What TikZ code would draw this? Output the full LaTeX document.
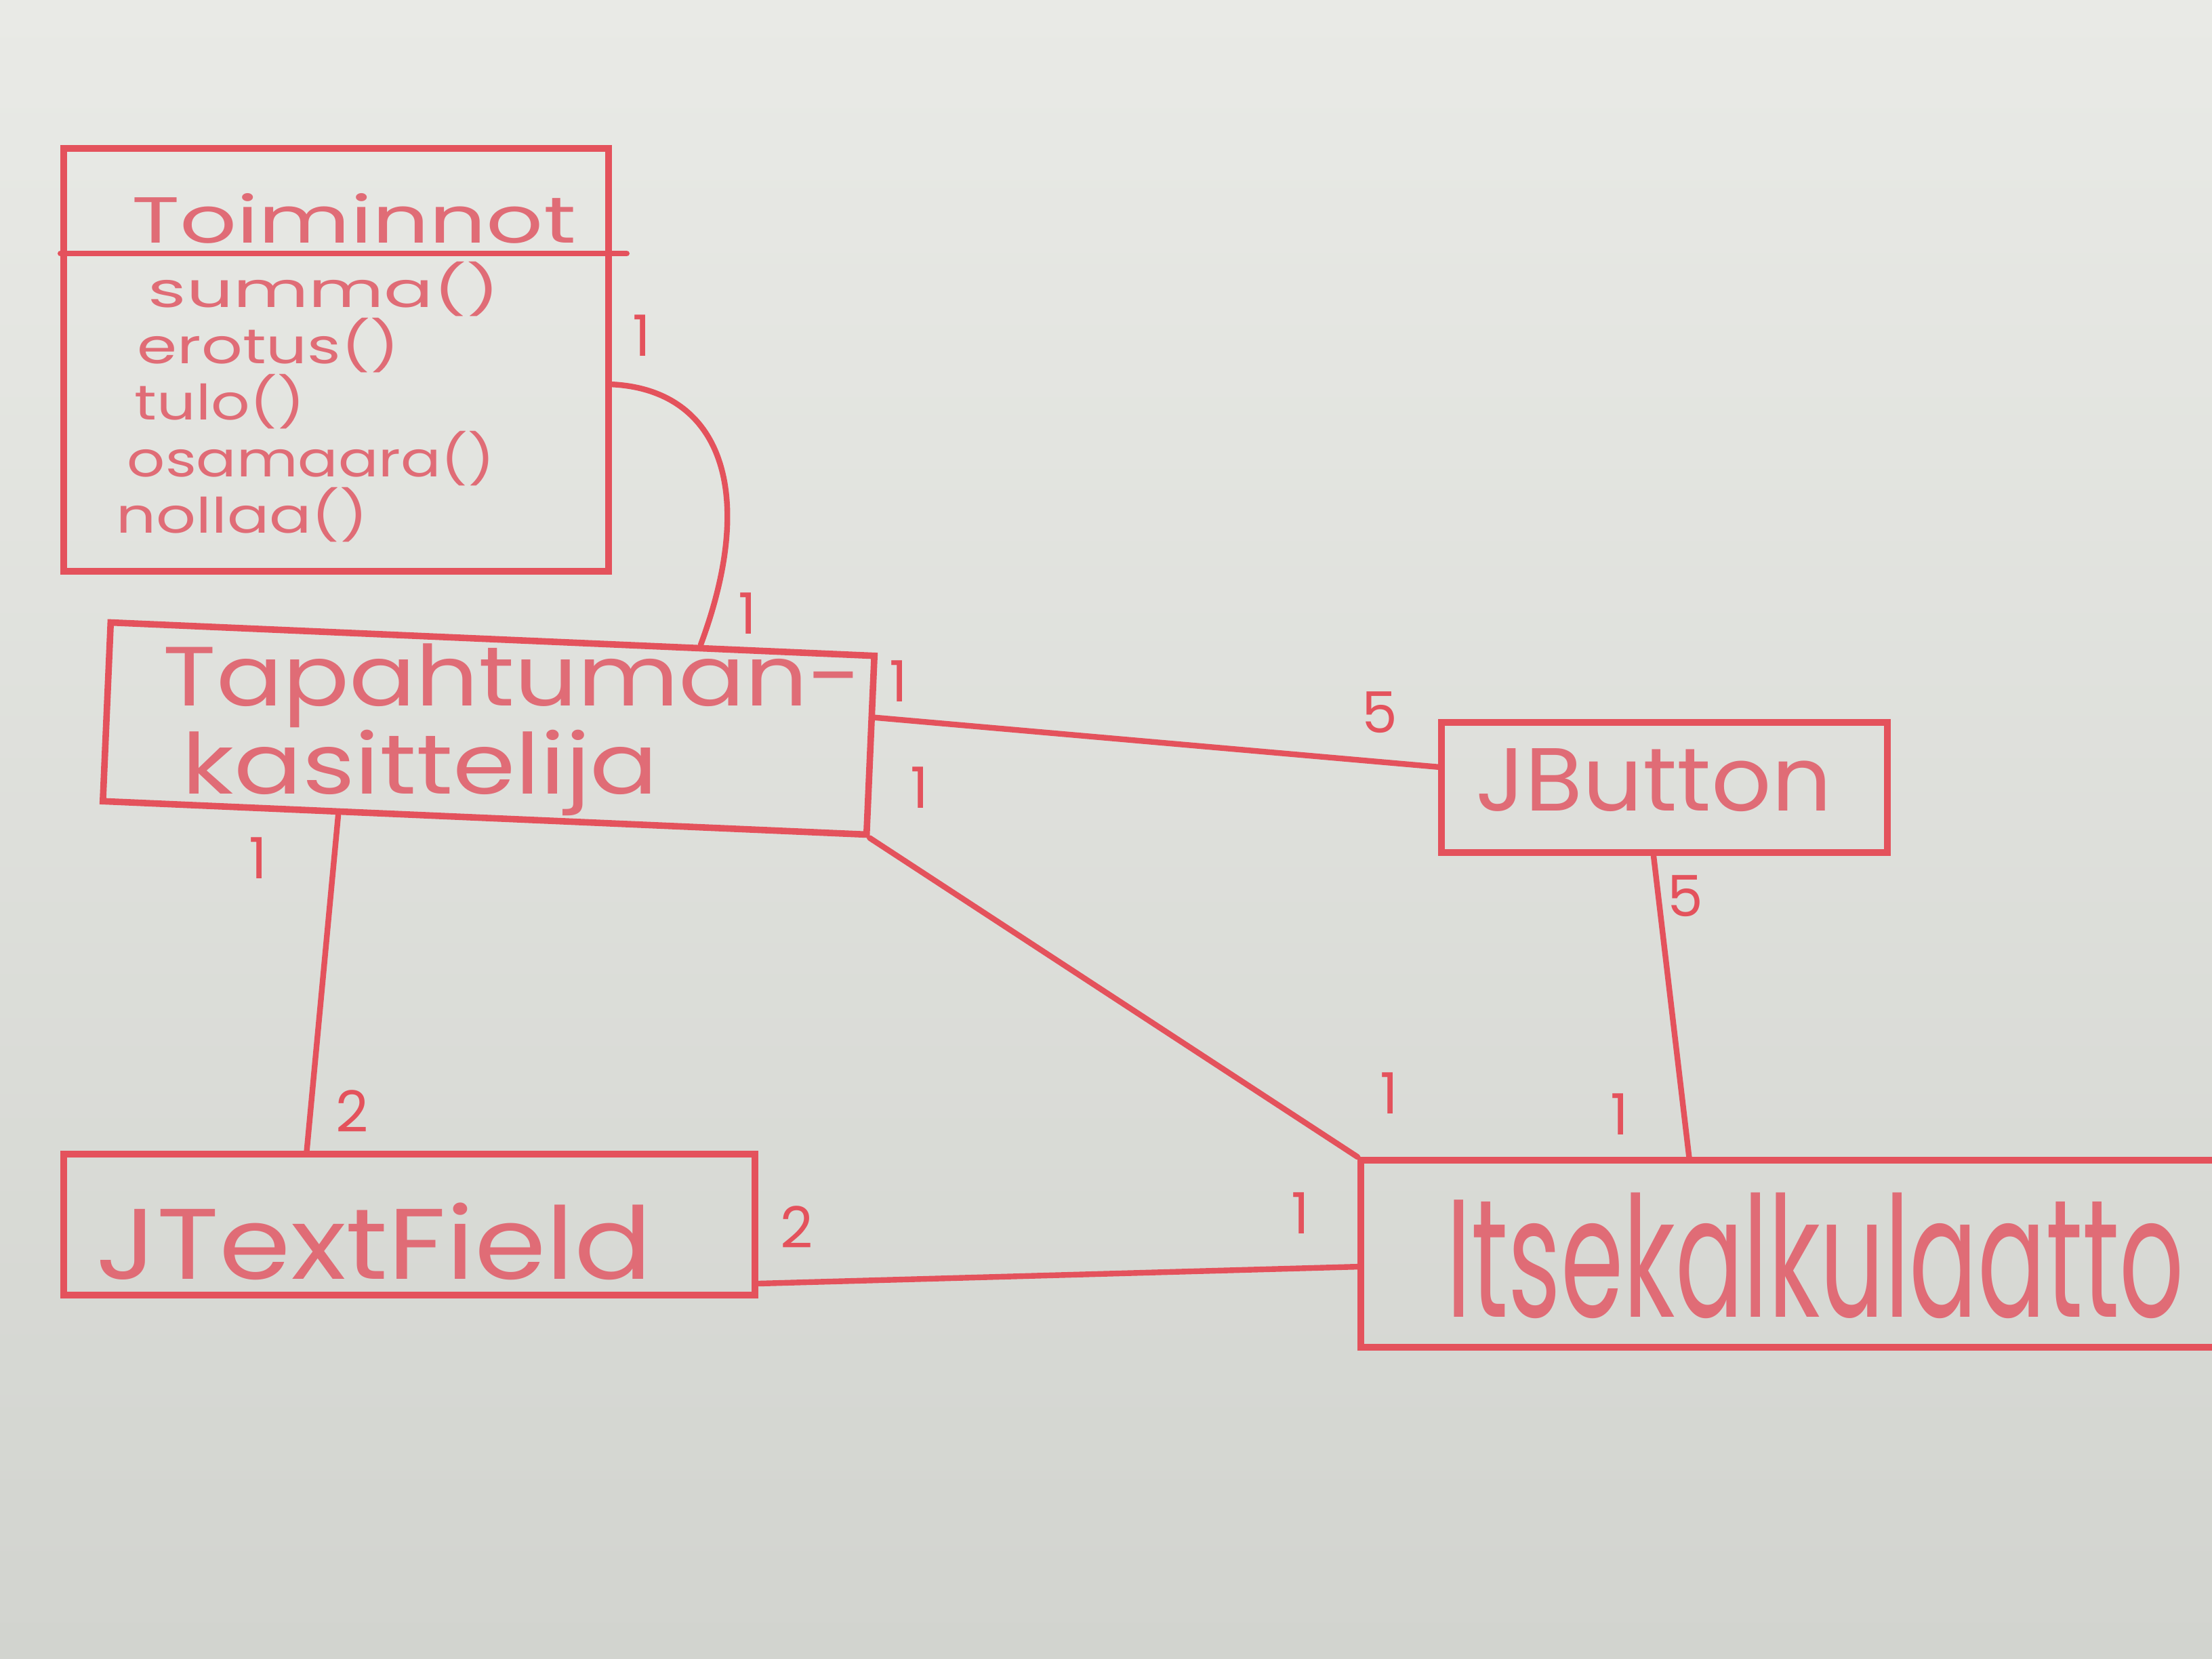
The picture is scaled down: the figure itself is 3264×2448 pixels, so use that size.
\documentclass[tikz,border=0pt]{standalone}
\usepackage{fontspec}
\setmainfont{Poppins}
\usetikzlibrary{calc}
\definecolor{papertop}{RGB}{233,234,230}
\definecolor{paperbot}{RGB}{210,212,207}
\definecolor{pen}{RGB}{228,82,92}
\definecolor{ink}{RGB}{224,108,118}
\begin{document}
\begin{tikzpicture}[x=0.25pt,y=-0.25pt,
  box/.style={draw=pen, line width=2.4pt, rectangle, inner sep=0pt},
  conn/.style={draw=pen, line width=2.1pt, line cap=round},
  hand/.style={text=ink, inner sep=0pt},
  mult/.style={text=pen, inner sep=0pt, font=\fontsize{21}{21}\selectfont}]
\useasboundingbox (0,0) rectangle (3264,2448);
\shade[top color=papertop, bottom color=paperbot] (0,0) rectangle (3264,2448);
\clip (0,0) rectangle (3264,2448);

% boxes
\node[box, minimum width=201pt, minimum height=156pt] (toi) at (496,531) {};
\node[box, minimum width=282pt, minimum height=66pt, rotate=-2.5] (tap) at (721,1075) {};
\node[box, minimum width=164.5pt, minimum height=48pt] (jb) at (2456,1162) {};
\node[box, minimum width=255pt, minimum height=52pt] (jtf) at (604,1807) {};
\node[box, minimum width=348pt, minimum height=69pt] (its) at (2704,1850) {};

% header divider of Toiminnot
\coordinate (hdl) at ($(toi.north west)+(0,160)$);
\coordinate (hdr) at ($(toi.north east)+(22,160)$);
\draw[conn] (hdl) -- (hdr);

% texts
\node[hand, font=\fontsize{24}{24}\selectfont] (ttl) at (522,322) {\scalebox{1.37}[1]{Toiminnot}};
\node[hand, anchor=west, font=\fontsize{18}{18}\selectfont] (m1) at (218,427) {\scalebox{1.5}[1]{summa()}};
\node[hand, anchor=west, font=\fontsize{18}{18}\selectfont] (m2) at (202,510) {\scalebox{1.32}[1]{erotus()}};
\node[hand, anchor=west, font=\fontsize{18}{18}\selectfont] (m3) at (198,593) {\scalebox{1.25}[1]{tulo()}};
\node[hand, anchor=west, font=\fontsize{18}{18}\selectfont] (m4) at (187,677) {\scalebox{1.22}[1]{osamaara()}};
\node[hand, anchor=west, font=\fontsize{18}{18}\selectfont] (m5) at (171,760) {\scalebox{1.28}[1]{nollaa()}};

\node[hand, anchor=west, font=\fontsize{31}{31}\selectfont] (t1) at (240,1012) {\scalebox{1.17}[1]{Tapahtuman-}};
\node[hand, anchor=west, font=\fontsize{31}{31}\selectfont] (t2) at (268,1140) {\scalebox{1.2}[1]{kasittelija}};
\node[hand, font=\fontsize{33}{33}\selectfont] (jbt) at (2440,1151) {\scalebox{1.05}[1]{JButton}};
\node[hand, font=\fontsize{37}{37}\selectfont] (jtft) at (552,1832) {\scalebox{1.15}[1]{JTextField}};
\node[hand, anchor=west, font=\fontsize{62}{62}\selectfont] (itst) at (2134,1853) {\scalebox{0.6}[1]{Itsekalkulaatto}};

% connectors
\coordinate (a1) at ($(toi.north east)+(0,353)$);
\coordinate (a2) at ($(tap.north west)!0.77!(tap.north east)$);
\draw[conn] (a1) .. controls (1060,575) and (1120,720) .. (a2);

\coordinate (b1) at ($(tap.north east)!0.35!(tap.south east)$);
\coordinate (b2) at ($(jb.north west)!0.35!(jb.south west)$);
\draw[conn] (b1) -- (b2);

\draw[conn] (tap.south east) -- (its.north west);

\coordinate (d1) at ($(tap.south west)!0.31!(tap.south east)$);
\coordinate (d2) at ($(jtf.north west)!0.353!(jtf.north east)$);
\draw[conn] (d1) -- (d2);

\coordinate (e1) at ($(jb.south west)!0.476!(jb.south east)$);
\coordinate (e2) at ($(its.north west)!0.349!(its.north east)$);
\draw[conn] (e1) -- (e2);

\coordinate (f1) at ($(jtf.north east)!0.9!(jtf.south east)$);
\coordinate (f2) at ($(its.north west)!0.567!(its.south west)$);
\draw[conn] (f1) -- (f2);

% multiplicities
\node[mult] (l1) at (947,495) {1};
\node[mult] (l2) at (1103,905) {1};
\node[mult] (l3) at (1326,1005) {1};
\node[mult] (l4) at (2036,1051) {5};
\node[mult] (l5) at (1357,1162) {1};
\node[mult] (l6) at (2050,1613) {1};
\node[mult] (l7) at (381,1266) {1};
\node[mult] (l8) at (520,1640) {2};
\node[mult] (l9) at (2487,1322) {5};
\node[mult] (l10) at (2390,1644) {1};
\node[mult] (l11) at (1176,1811) {2};
\node[mult] (l12) at (1919,1790) {1};
\end{tikzpicture}
\end{document}
